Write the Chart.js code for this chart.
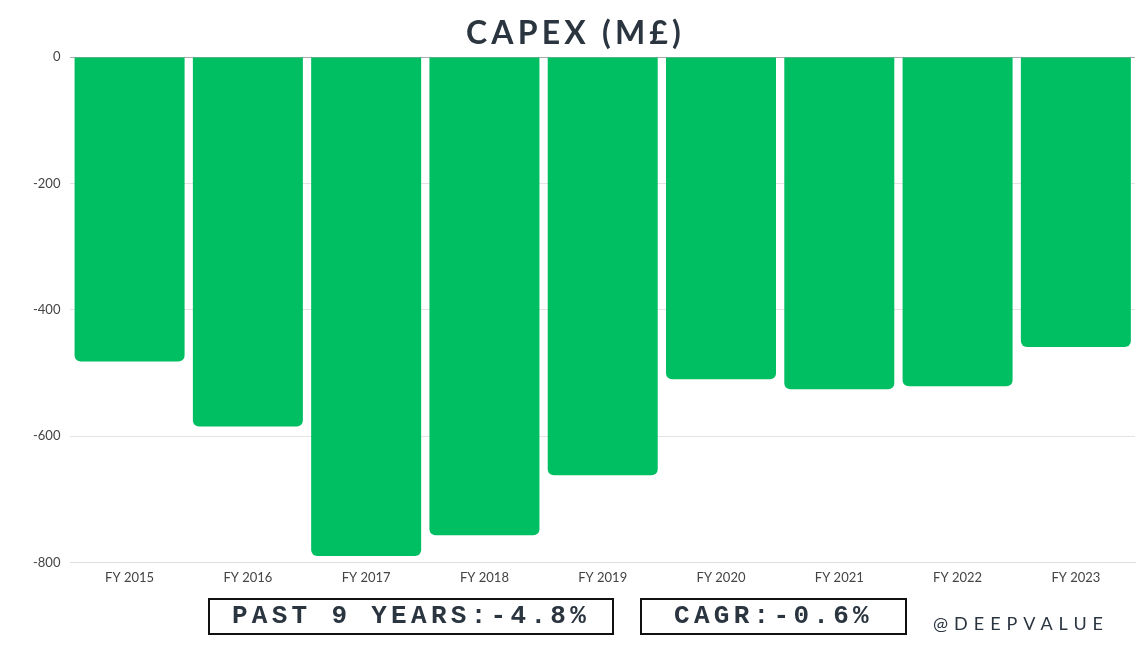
<!DOCTYPE html>
<html>
<head>
<meta charset="utf-8">
<script src="https://cdn.jsdelivr.net/npm/chart.js@4"></script>
<style>
  body { margin: 0; background: #fff; font-family: Lato, sans-serif; }
  #wrap { position: relative; width: 1147px; height: 645px; }
  #title { position: absolute; left: 0; width: 1147px; top: 12px; text-align: center; padding-left: 2px;
           font: bold 32px Lato; letter-spacing: 4.2px; color: #2a3540; }
  .box { position: absolute; top: 598px; height: 33px; border: 2px solid #111; box-sizing: content-box;
         font: bold 26px "Liberation Mono", monospace; color: #2a3540; text-align: center; line-height: 33px;
         letter-spacing: 4.3px; }
  #tag { position: absolute; left: 933px; top: 612px; font: 18px Lato; letter-spacing: 6px; color: #2a3540; }
</style>
</head>
<body>
<div id="wrap">
  <canvas id="myChart" width="1147" height="645"></canvas>
  <div id="title">CAPEX (M£)</div>
  <div class="box" style="left:208px;width:402px">PAST 9 YEARS:-4.8%</div>
  <div class="box" style="left:640px;width:263px">CAGR:-0.6%</div>
  <div id="tag">@DEEPVALUE</div>
</div>
<script>
const years = ['FY 2015', 'FY 2016', 'FY 2017', 'FY 2018', 'FY 2019', 'FY 2020', 'FY 2021', 'FY 2022', 'FY 2023'];
const capex = [-482, -585, -790, -757, -662, -510, -526, -521, -459];
const yTicks = [0, -200, -400, -600, -800];

const ctx = document.getElementById('myChart').getContext('2d');
new Chart(ctx, {
  type: 'bar',
  data: {
    labels: years,
    datasets: [{
      label: 'Capex',
      data: capex,
      backgroundColor: '#00be62',
      borderRadius: 6,
      barPercentage: 0.93,
      categoryPercentage: 1
    }]
  },
  options: {
    responsive: false,
    animation: false,
    layout: { padding: { top: 57, left: 23, right: 12, bottom: 59 } },
    plugins: { legend: { display: false }, tooltip: { enabled: false } },
    scales: {
      x: {
        grid: { display: false },
        border: { color: '#dddddd' },
        ticks: { color: '#444', font: { family: 'Lato', size: 13 }, padding: 0 }
      },
      y: {
        min: -800,
        max: 0,
        afterBuildTicks: (axis) => { axis.ticks = yTicks.map(v => ({ value: v })); },
        grid: { color: (c) => c.tick.value === 0 ? '#aaaaaa' : '#e3e3e3', drawTicks: false },
        border: { display: false },
        ticks: { color: '#444', font: { family: 'Lato', size: 13 }, padding: 10 }
      }
    }
  }
});
</script>
</body>
</html>
